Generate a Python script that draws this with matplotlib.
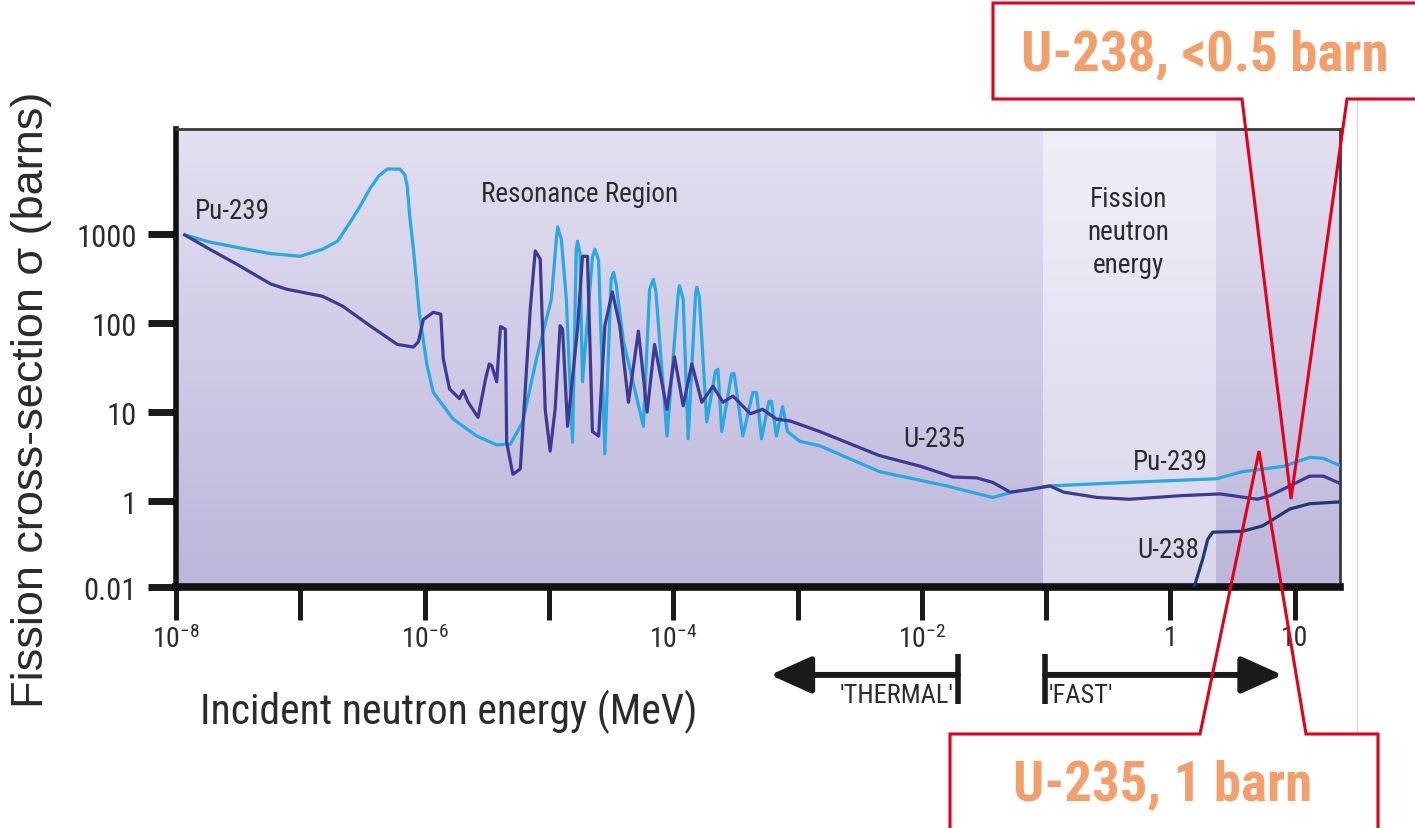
"""Fission cross-section vs incident neutron energy for U-235, Pu-239, U-238."""

import matplotlib

matplotlib.use("Agg")

import matplotlib.pyplot as plt  # noqa: E402
import numpy as np  # noqa: E402
from matplotlib.colors import LinearSegmentedColormap  # noqa: E402
from matplotlib.lines import Line2D  # noqa: E402

W, H = 1415, 829

# condensed faces first if present, otherwise Arial-metric Liberation Sans
NARROW = ["Liberation Sans Narrow", "Roboto Condensed", "DejaVu Sans Condensed",
          "Liberation Sans", "DejaVu Sans"]
REGULAR = ["Liberation Sans", "DejaVu Sans"]
TEXT_COLOR = "#2b2b2b"

COLOR_PU239 = "#27a9e1"
COLOR_U235 = "#3d3a93"
COLOR_U238 = "#223a6b"
CALLOUT_RED = "#e3001b"
CALLOUT_TEXT = "#f29f6b"

# --------------------------------------------------------------------------- #
# Curves: log10(energy / MeV) and log10(cross-section / barns)
# --------------------------------------------------------------------------- #
PU239_LOG_E = [
    -7.93, -7.73, -7.51, -7.24, -7.00, -6.82, -6.70, -6.60, -6.52, -6.44,
    -6.37, -6.30, -6.20, -6.16, -6.14, -6.12, -6.09,
    -6.04, -5.98, -5.93, -5.77, -5.58, -5.42, -5.31, -5.21, -5.10, -4.98,
    -4.94, -4.93, -4.90, -4.86, -4.81, -4.78, -4.77, -4.75, -4.73, -4.65,
    -4.63, -4.60, -4.55, -4.50, -4.48, -4.46, -4.40, -4.24, -4.19, -4.16,
    -4.14, -4.05, -3.96, -3.95, -3.92, -3.88, -3.82, -3.81, -3.79, -3.73,
    -3.66, -3.64, -3.61, -3.53, -3.51, -3.44, -3.36, -3.33, -3.29, -3.23,
    -3.21, -3.17, -3.12, -3.08, -2.98, -2.82, -2.34, -1.80, -1.43, -1.27,
    -0.97, -0.33, 0.37, 0.58, 0.91, 1.12, 1.23, 1.36,
]
PU239_LOG_SIGMA = [
    2.99, 2.91, 2.85, 2.78, 2.75, 2.83, 2.92, 3.13, 3.31, 3.51,
    3.65, 3.73, 3.73, 3.67, 3.54, 3.20, 2.83,
    2.08, 1.52, 1.22, 0.92, 0.73, 0.63, 0.64, 0.89, 1.60, 2.27,
    2.94, 3.08, 2.94, 2.27, 0.66, 2.83, 2.92, 2.78, 1.34, 2.74,
    2.83, 2.70, 0.53, 2.49, 2.57, 2.44, 1.79, 0.84, 2.38, 2.49,
    2.36, 0.73, 2.33, 2.42, 2.27, 0.70, 2.33, 2.40, 2.29, 0.89,
    1.46, 1.48, 0.78, 1.43, 1.43, 0.73, 1.22, 1.22, 0.70, 1.12,
    1.12, 0.73, 1.06, 0.78, 0.67, 0.62, 0.33, 0.17, 0.04, 0.10,
    0.17, 0.21, 0.25, 0.33, 0.39, 0.49, 0.48, 0.40,
]

U235_LOG_E = [
    -7.93, -7.73, -7.51, -7.24, -7.11, -6.82, -6.66, -6.44, -6.22, -6.09,
    -6.05, -6.01, -5.93, -5.87, -5.85, -5.80, -5.72, -5.69, -5.65, -5.57,
    -5.51, -5.48, -5.46, -5.42, -5.39, -5.35, -5.34, -5.29, -5.23, -5.15,
    -5.11, -5.07, -5.03, -4.99, -4.95, -4.91, -4.89, -4.85, -4.77, -4.73,
    -4.69, -4.65, -4.60, -4.55, -4.49, -4.43, -4.36, -4.28, -4.21, -4.15,
    -4.05, -3.99, -3.92, -3.85, -3.77, -3.68, -3.60, -3.52, -3.38, -3.28,
    -3.17, -3.06, -2.82, -2.34, -2.01, -1.75, -1.56, -1.43, -1.29, -1.13,
    -0.97, -0.86, -0.59, -0.33, 0.08, 0.40, 0.70, 0.80, 0.96, 1.12,
    1.23, 1.36,
]
U235_LOG_SIGMA = [
    2.99, 2.83, 2.66, 2.44, 2.38, 2.30, 2.19, 1.97, 1.76, 1.73,
    1.79, 2.04, 2.12, 2.10, 1.60, 1.26, 1.15, 1.24, 1.11, 0.94,
    1.37, 1.54, 1.52, 1.34, 1.96, 1.93, 0.66, 0.30, 0.36, 2.16,
    2.81, 2.72, 1.03, 0.56, 1.03, 1.97, 1.93, 0.84, 1.93, 2.75,
    2.75, 0.78, 0.73, 1.97, 2.35, 1.97, 1.11, 1.91, 1.00, 1.76,
    1.03, 1.62, 1.07, 1.54, 1.11, 1.29, 1.11, 1.18, 0.98, 1.03,
    0.92, 0.90, 0.78, 0.51, 0.39, 0.27, 0.26, 0.21, 0.10, 0.13,
    0.17, 0.10, 0.04, 0.02, 0.06, 0.08, 0.02, 0.06, 0.17, 0.28,
    0.28, 0.20,
]

U238_LOG_E = [0.19, 0.26, 0.30, 0.34, 0.58, 0.74, 0.96, 1.12, 1.36]
U238_LOG_SIGMA = [-0.97, -0.65, -0.43, -0.35, -0.34, -0.28, -0.09, -0.03, -0.01]

# Axis ticks (log10 positions) and their printed labels
Y_TICK_LOG = [-0.966, 0, 1, 2, 3]
Y_TICK_LABELS = ["0.01", "1", "10", "100", "1000"]
X_TICK_LOG = list(range(-8, 2))
X_TICK_LABELS = [r"$\mathregular{10^{-8}}$", "", r"$\mathregular{10^{-6}}$", "",
                 r"$\mathregular{10^{-4}}$", "", r"$\mathregular{10^{-2}}$", "",
                 "1", "10"]

X_LOG_LIM = (-8.0, 1.364)
Y_LOG_LIM = (-0.966, 4.18)

# Fission-neutron energy band (log10 MeV)
BAND_LOG = (-1.025, 0.36)

THERMAL_LOG = (-1.709, -3.22)   # bar position, arrow tip
FAST_LOG = (-1.009, 0.90)


def fig_xy(px: float, py: float) -> tuple[float, float]:
    return px / W, 1 - py / H


def main() -> None:
    fig = plt.figure(figsize=(W / 100, H / 100), dpi=100)
    fig.patch.set_facecolor("white")
    ax = fig.add_axes([176 / W, 1 - 588 / H, 1164 / W, 458 / H])
    ax.set_facecolor("none")
    ax.set_xscale("log")
    ax.set_yscale("log")

    # background gradient and lighter fission band
    grad = np.linspace(0, 1, 256).reshape(-1, 1)
    bg = LinearSegmentedColormap.from_list("bg", ["#e3e0f1", "#bdb6db"])
    ax.imshow(grad, cmap=bg, extent=[0, 1, 0, 1], transform=ax.transAxes,
              aspect="auto", zorder=0)
    span = X_LOG_LIM[1] - X_LOG_LIM[0]
    f0 = (BAND_LOG[0] - X_LOG_LIM[0]) / span
    f1 = (BAND_LOG[1] - X_LOG_LIM[0]) / span
    band = LinearSegmentedColormap.from_list("band", ["#f0eff8", "#d9d6eb"])
    ax.imshow(grad, cmap=band, extent=[f0, f1, 0, 1], transform=ax.transAxes,
              aspect="auto", zorder=0.5)

    lw = 2.3
    ax.plot(10 ** np.array(PU239_LOG_E), 10 ** np.array(PU239_LOG_SIGMA),
            color=COLOR_PU239, lw=lw, solid_joinstyle="round", zorder=3)
    ax.plot(10 ** np.array(U235_LOG_E), 10 ** np.array(U235_LOG_SIGMA),
            color=COLOR_U235, lw=lw, solid_joinstyle="round", zorder=4)
    ax.plot(10 ** np.array(U238_LOG_E), 10 ** np.array(U238_LOG_SIGMA),
            color=COLOR_U238, lw=lw, solid_joinstyle="round", zorder=4)

    ax.set_xlim(10 ** X_LOG_LIM[0], 10 ** X_LOG_LIM[1])
    ax.set_ylim(10 ** Y_LOG_LIM[0], 10 ** Y_LOG_LIM[1])

    # ticks
    ax.set_yticks([10 ** v for v in Y_TICK_LOG])
    ax.set_yticklabels(Y_TICK_LABELS)
    ax.set_xticks([10.0 ** v for v in X_TICK_LOG])
    ax.set_xticklabels(X_TICK_LABELS)
    ax.minorticks_off()
    ax.tick_params(axis="y", direction="out", length=20, width=5, pad=8,
                   labelsize=22, colors="#1a1a1a")
    ax.tick_params(axis="x", direction="out", length=24, width=3.6, pad=3,
                   labelsize=20, colors="#1a1a1a")
    for lab in ax.get_yticklabels() + ax.get_xticklabels():
        lab.set_family(NARROW)
        lab.set_color(TEXT_COLOR)

    for side in ("left", "bottom"):
        ax.spines[side].set_color("#111111")
    ax.spines["left"].set_linewidth(4)
    ax.spines["bottom"].set_linewidth(5.5)
    for side in ("top", "right"):
        ax.spines[side].set_color("#3a3a3a")
        ax.spines[side].set_linewidth(2)

    # in-plot labels
    label_kw = dict(family=NARROW, color=TEXT_COLOR, fontsize=19.5, zorder=6)
    ax.text(10 ** -7.85, 10 ** 3.26, "Pu-239", ha="left", va="center", **label_kw)
    ax.text(10 ** -4.75, 10 ** 3.45, "Resonance Region", ha="center",
            va="center", **label_kw)
    ax.text(10 ** -0.34, 10 ** 3.03, "Fission\nneutron\nenergy", ha="center",
            va="center", linespacing=1.3, **label_kw)
    ax.text(10 ** -1.90, 10 ** 0.70, "U-235", ha="center", va="center", **label_kw)
    ax.text(10 ** 0.0, 10 ** 0.44, "Pu-239", ha="center", va="center", **label_kw)
    ax.text(10 ** -0.02, 10 ** -0.54, "U-238", ha="center", va="center", **label_kw)

    # thermal / fast arrows below the axis
    xt = ax.get_xaxis_transform()
    arrow_kw = dict(arrowstyle="-|>,head_length=1.0,head_width=0.45",
                    lw=4.3, color="#1a1a1a", shrinkA=0, shrinkB=0,
                    mutation_scale=25)
    y_arrow = -0.192
    for bar_log, tip_log in (THERMAL_LOG, FAST_LOG):
        ax.annotate("", xy=(10 ** tip_log, y_arrow), xycoords=xt,
                    xytext=(10 ** bar_log, y_arrow), textcoords=xt,
                    arrowprops=arrow_kw, annotation_clip=False)
        ax.plot([10 ** bar_log] * 2, [-0.146, -0.255], transform=xt,
                clip_on=False, color="#1a1a1a", lw=4, solid_capstyle="butt")
    ax.text(10 ** (THERMAL_LOG[0] - 0.035), -0.236, "'THERMAL'", transform=xt,
            ha="right", va="center", family=NARROW, fontsize=19, color=TEXT_COLOR)
    ax.text(10 ** (FAST_LOG[0] + 0.03), -0.236, "'FAST'", transform=xt,
            ha="left", va="center", family=NARROW, fontsize=19, color=TEXT_COLOR)

    # axis titles
    fig.text(*fig_xy(32, 400), "Fission cross-section σ (barns)", rotation=90,
             ha="center", va="center", family=REGULAR, fontsize=32.5,
             color=TEXT_COLOR)
    fig.text(*fig_xy(200, 712), "Incident neutron energy (MeV)", ha="left",
             va="center", family=NARROW, fontsize=30, color=TEXT_COLOR)

    # faint page edge
    fig.add_artist(Line2D(*zip(fig_xy(1357, 100), fig_xy(1357, 735)),
                          transform=fig.transFigure, color="#dcdcdc", lw=1))

    # red callouts
    top = [(1420, 100), (1347, 100), (1291, 500), (1242, 100), (993, 100),
           (993, 4), (1420, 4)]
    bottom = [(950, 835), (950, 735), (1200, 735), (1259, 452), (1306, 735),
              (1378, 735), (1378, 835)]
    for pts in (top, bottom):
        xs, ys = zip(*[fig_xy(x, y) for x, y in pts])
        fig.add_artist(Line2D(xs, ys, transform=fig.transFigure,
                              color=CALLOUT_RED, lw=2.2, zorder=10,
                              solid_joinstyle="miter"))
    fig.text(*fig_xy(1205, 55), "U-238, <0.5 barn", ha="center", va="center",
             family=NARROW, fontweight="bold", fontsize=39.5, color=CALLOUT_TEXT)
    fig.text(*fig_xy(1163, 785), "U-235, 1 barn", ha="center", va="center",
             family=NARROW, fontweight="bold", fontsize=39.5, color=CALLOUT_TEXT)

    fig.savefig("out.png", dpi=100, facecolor="white")
    plt.close(fig)


if __name__ == "__main__":
    main()
